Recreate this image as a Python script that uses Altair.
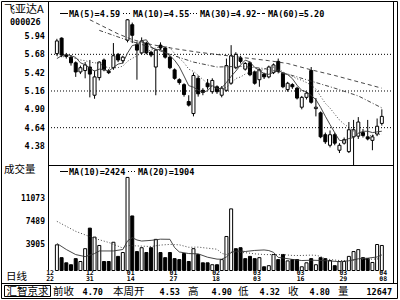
import altair as alt
import pandas as pd

# ---------------- data ----------------
opens = [5.69, 5.91, 5.67, 5.64, 5.56, 5.43, 5.45, 5.50, 5.10, 5.35,
         5.60, 5.44, 5.49, 5.68, 5.59, 5.88, 6.10, 5.82, 5.70, 5.84,
         5.71, 5.50, 5.81, 5.77, 5.64, 5.46, 5.32, 5.25, 5.01, 4.84,
         5.34, 5.17, 5.27, 5.15, 5.22, 5.10, 5.17, 5.27, 5.49, 5.63,
         5.47, 5.56, 5.43, 5.32, 5.40, 5.36, 5.42, 5.58, 5.41, 5.18,
         5.25, 5.20, 4.93, 5.07, 5.45, 4.91, 4.85, 4.54, 4.39, 4.54,
         4.32, 4.42, 4.30, 4.51, 4.52, 4.57, 4.51, 4.46, 4.55, 4.70]
highs = [5.90, 5.92, 5.70, 5.67, 5.58, 5.52, 5.57, 5.60, 5.45, 5.58,
         5.62, 5.47, 5.84, 5.70, 5.66, 6.21, 6.13, 5.86, 5.92, 5.86,
         5.73, 5.76, 5.85, 5.79, 5.66, 5.48, 5.34, 5.27, 5.10, 5.42,
         5.38, 5.20, 5.33, 5.34, 5.24, 5.23, 5.62, 5.81, 5.71, 5.66,
         5.57, 5.58, 5.45, 5.48, 5.42, 5.52, 5.55, 5.62, 5.43, 5.29,
         5.27, 5.22, 5.09, 5.15, 5.50, 5.06, 4.87, 4.57, 4.60, 4.57,
         4.42, 4.50, 4.72, 4.75, 4.79, 4.62, 4.75, 4.54, 4.77, 4.90]
lows = [5.66, 5.64, 5.62, 5.52, 5.36, 5.40, 5.34, 5.07, 5.05, 5.31,
        5.44, 5.40, 5.46, 5.57, 5.55, 5.85, 5.84, 5.32, 5.68, 5.68,
        5.64, 5.10, 5.74, 5.62, 5.47, 5.32, 5.25, 5.08, 4.94, 4.80,
        5.08, 5.10, 5.18, 5.12, 5.12, 5.07, 5.15, 5.25, 5.47, 5.55,
        5.45, 5.37, 5.25, 5.22, 5.33, 5.34, 5.40, 5.41, 5.20, 5.15,
        5.19, 5.04, 4.90, 5.04, 4.98, 4.80, 4.49, 4.41, 4.36, 4.39,
        4.28, 4.40, 4.28, 3.90, 4.48, 4.50, 4.46, 4.32, 4.52, 4.67]
closes = [5.87, 5.67, 5.65, 5.56, 5.43, 5.49, 5.53, 5.40, 5.36, 5.57,
          5.46, 5.42, 5.66, 5.60, 5.64, 6.17, 5.95, 5.74, 5.87, 5.70,
          5.67, 5.74, 5.77, 5.64, 5.49, 5.34, 5.28, 5.11, 4.96, 5.38,
          5.12, 5.14, 5.22, 5.31, 5.15, 5.20, 5.52, 5.66, 5.68, 5.58,
          5.55, 5.39, 5.27, 5.46, 5.36, 5.50, 5.53, 5.44, 5.22, 5.27,
          5.22, 5.06, 5.07, 5.13, 5.00, 4.93, 4.51, 4.44, 4.54, 4.42,
          4.39, 4.47, 4.61, 4.61, 4.72, 4.53, 4.48, 4.51, 4.66, 4.80]
volumes = [4000, 2000, 1200, 900, 1850, 1400, 3400, 6600, 5200, 3900,
           1400, 1400, 4400, 2200, 2800, 14500, 8500, 2950, 3550, 2800,
           3550, 4850, 2800, 2000, 2800, 1850, 1700, 2650, 1400, 3400,
           2500, 1200, 1200, 900, 900, 1700, 5300, 9600, 3400, 3550,
           1850, 2200, 1850, 2000, 580, 750, 2500, 1700, 2500, 1500,
           1700, 1700, 580, 1200, 1850, 900, 2000, 1850, 1550, 750,
           1400, 1400, 2200, 2950, 3250, 2000, 1850, 1250, 4050, 3900]
vol_dir = list("WBBBBWWBWW" "BBWBWWBBWB" "BWBBBBBBBW" "BBBWBWWWBB"
               "BBBWBWWBBW" "BBWWBWBBWB" "WWWWWBBWWW")

ma5 = [5.62, 5.66, 5.68, 5.66, 5.636, 5.56, 5.532, 5.482, 5.442, 5.47,
       5.464, 5.442, 5.494, 5.542, 5.556, 5.698, 5.804, 5.82, 5.874, 5.886,
       5.786, 5.744, 5.75, 5.704, 5.662, 5.596, 5.504, 5.372, 5.236, 5.214,
       5.17, 5.142, 5.164, 5.234, 5.188, 5.204, 5.28, 5.368, 5.442, 5.528,
       5.598, 5.572, 5.494, 5.45, 5.406, 5.396, 5.424, 5.458, 5.41, 5.392,
       5.336, 5.242, 5.168, 5.15, 5.096, 5.038, 4.928, 4.802, 4.684, 4.568,
       4.46, 4.452, 4.486, 4.50, 4.56, 4.588, 4.59, 4.57, 4.58, 4.59]
ma10 = [5.66, 5.65, 5.64, 5.63, 5.62, 5.60, 5.59, 5.57, 5.56, 5.553,
        5.512, 5.487, 5.488, 5.492, 5.513, 5.581, 5.623, 5.657, 5.708, 5.721,
        5.742, 5.774, 5.785, 5.789, 5.774, 5.691, 5.624, 5.561, 5.47, 5.438,
        5.383, 5.323, 5.268, 5.235, 5.201, 5.187, 5.211, 5.266, 5.338, 5.358,
        5.401, 5.426, 5.431, 5.446, 5.467, 5.497, 5.498, 5.476, 5.43, 5.399,
        5.366, 5.333, 5.313, 5.28, 5.244, 5.187, 5.085, 4.985, 4.917, 4.832,
        4.749, 4.69, 4.644, 4.592, 4.564, 4.524, 4.521, 4.528, 4.54, 4.55]
ma30_idx = [9, 12, 15, 19, 24, 29, 34, 39, 44, 49, 54, 59, 64, 69]
ma30_val = [6.02, 5.95, 5.88, 5.80, 5.68, 5.57, 5.50, 5.51, 5.48, 5.40, 5.30, 5.20, 5.09, 4.92]
ma60_idx = [7, 10, 13, 16, 20, 25, 30, 35, 40, 45, 49, 54, 59, 64, 69]
ma60_val = [6.17, 6.07, 5.97, 5.89, 5.82, 5.76, 5.71, 5.67, 5.63, 5.59, 5.55, 5.46, 5.38, 5.29, 5.20]

vma10_idx = [0, 2, 4, 6, 8, 9, 12, 14, 15, 16, 17, 18, 20, 22, 24, 25, 26, 28, 30, 32, 34, 35,
             36, 37, 38, 39, 40, 42, 44, 45, 46, 47, 48, 50, 52, 54, 56, 58, 60, 62, 64, 66, 68, 69]
vma10_val = [4220, 3270, 2480, 2160, 2640, 3045, 3045, 3270, 4610, 5120, 4755, 4590, 4695, 4880,
             4860, 3565, 2885, 2640, 2595, 2070, 1770, 1755, 2115, 2810, 3010, 3025, 2960, 3125,
             3203, 3108, 2828, 2038, 1948, 1728, 1551, 1598, 1563, 1483, 1378, 1510, 1825, 1920,
             2110, 2424]
vma20_idx = [0, 4, 8, 11, 14, 15, 19, 20, 22, 24, 26, 28, 30, 32, 34, 35, 36, 37, 38, 40, 42,
             44, 46, 48, 50, 52, 54, 55, 56, 57, 58, 60, 62, 64, 66, 68, 69]
vma20_val = [7660, 6100, 5000, 4370, 3500, 3900, 3763, 3740, 3963, 4065, 4003, 3615, 3645, 3475,
             3315, 2660, 2500, 2833, 2825, 2778, 2598, 2487, 2472, 2479, 2344, 2338, 2401, 2361,
             2196, 1808, 1716, 1553, 1531, 1712, 1742, 1797, 1904]

price_ticks = [5.94, 5.68, 5.42, 5.16, 4.90, 4.64, 4.38]
price_grid = [5.68, 5.16, 4.64]
vol_ticks = [11073, 7489, 3905]
date_pos = [-1.44, 7.0, 15.67, 24.74, 33.81, 42.47, 51.75, 60.82, 69.28]
date_mon = ["12", "12", "01", "01", "02", "03", "03", "03", "04"]
date_day = ["22", "31", "14", "27", "18", "03", "16", "29", "08"]

# ---------------- scales ----------------
MONO = "DejaVu Sans Mono"
CJK = "Noto Sans CJK SC"
XS = alt.Scale(domain=[-0.825, 70.31], range=[48, 393], nice=False, zero=False)
PS = alt.Scale(domain=[4.1105, 6.1811], range=[165, 19], nice=False, zero=False, clamp=True)
VS = alt.Scale(domain=[0, 16437], range=[270.5, 165], nice=False, zero=False, clamp=True)
FILL = alt.Scale(domain=["W", "B"], range=["white", "black"])

idx = list(range(len(closes)))
cdf = pd.DataFrame({"i": idx, "open": opens, "high": highs, "low": lows, "close": closes,
                    "dir": ["W" if c >= o else "B" for o, c in zip(opens, closes)]})
vdf = pd.DataFrame({"i": idx, "vol": volumes, "dir": vol_dir})

X = alt.X("i:Q", scale=XS, axis=None)
ONE = pd.DataFrame({"k": [0]})


def line_layer(xs, ys, scale, dash=None, width=0.9, color="#333"):
    df = pd.DataFrame({"i": xs, "v": ys})
    kw = dict(color=color, strokeWidth=width)
    if dash:
        kw["strokeDash"] = dash
    return alt.Chart(df).mark_line(**kw).encode(
        x=alt.X("i:Q", scale=XS, axis=None), y=alt.Y("v:Q", scale=scale, axis=None))


def txt(s, x, y, size=8.5, font=MONO, weight="bold", align="left"):
    return alt.Chart(ONE).mark_text(text=s, font=font, fontSize=size, fontWeight=weight,
                                    align=align, baseline="middle", color="black").encode(
        x=alt.value(x), y=alt.value(y))


def hrule(x1, x2, y, dash=None, w=1.0):
    kw = dict(color="black", strokeWidth=w)
    if dash:
        kw["strokeDash"] = dash
    return alt.Chart(ONE).mark_rule(**kw).encode(x=alt.value(x1), x2=alt.value(x2), y=alt.value(y))


def vrule(x, y1, y2, w=1.0):
    return alt.Chart(ONE).mark_rule(color="black", strokeWidth=w).encode(
        x=alt.value(x), y=alt.value(y1), y2=alt.value(y2))


def box(x1, x2, y1, y2):
    return alt.Chart(ONE).mark_rect(fillOpacity=0, stroke="black", strokeWidth=1).encode(
        x=alt.value(x1), x2=alt.value(x2), y=alt.value(y1), y2=alt.value(y2))


layers = []

# gridlines
layers.append(alt.Chart(pd.DataFrame({"v": price_grid})).mark_rule(
    color="black", strokeWidth=1, strokeDash=[1, 2]).encode(
    y=alt.Y("v:Q", scale=PS, axis=None), x=alt.value(48), x2=alt.value(393)))

# candles
layers.append(alt.Chart(cdf).mark_rule(color="black", strokeWidth=1).encode(
    x=X, y=alt.Y("low:Q", scale=PS, axis=None), y2="high:Q"))
layers.append(alt.Chart(cdf).mark_bar(size=3, stroke="black", strokeWidth=1, orient="vertical").encode(
    x=X, y=alt.Y("open:Q", scale=PS, axis=None), y2="close:Q",
    fill=alt.Fill("dir:N", scale=FILL, legend=None)))

# price moving averages
layers.append(line_layer(idx, ma5, PS))
layers.append(line_layer(idx, ma10, PS, dash=[1, 2]))
layers.append(line_layer(ma30_idx, ma30_val, PS, dash=[4, 2, 1, 2]))
layers.append(line_layer(ma60_idx, ma60_val, PS, dash=[4, 3]))

# volume
layers.append(alt.Chart(vdf).mark_bar(size=3, stroke="black", strokeWidth=1, orient="vertical").encode(
    x=X, y=alt.Y("vol:Q", scale=VS, axis=None), y2=alt.datum(0),
    fill=alt.Fill("dir:N", scale=FILL, legend=None)))
layers.append(line_layer(vma10_idx, vma10_val, VS))
layers.append(line_layer(vma20_idx, vma20_val, VS, dash=[1, 2]))

# axis labels
layers.append(alt.Chart(pd.DataFrame({"v": price_ticks, "t": [f"{p:.2f}" for p in price_ticks]})).mark_text(
    font=MONO, fontSize=8.5, fontWeight="bold", align="right", baseline="middle", color="black").encode(
    y=alt.Y("v:Q", scale=PS, axis=None), x=alt.value(45), text="t:N"))
layers.append(alt.Chart(pd.DataFrame({"v": vol_ticks, "t": [str(v) for v in vol_ticks]})).mark_text(
    font=MONO, fontSize=8, fontWeight="bold", align="right", baseline="middle", color="black").encode(
    y=alt.Y("v:Q", scale=VS, axis=None), x=alt.value(45), text="t:N"))
ddf = pd.DataFrame({"i": date_pos, "m": date_mon, "d": date_day})
layers.append(alt.Chart(ddf).mark_text(font=MONO, fontSize=6.5, fontWeight="bold", baseline="middle",
                                       color="black").encode(x=X, y=alt.value(272.6), text="m:N"))
layers.append(alt.Chart(ddf).mark_text(font=MONO, fontSize=6.5, fontWeight="bold", baseline="middle",
                                       color="black").encode(x=X, y=alt.value(279.2), text="d:N"))

# legends / titles
layers += [
    txt("飞亚达A", 4, 10, size=11, font=CJK, weight="normal"),
    txt("000026", 10, 21.5),
    hrule(60, 68, 13.5, w=1),
    txt("MA(5)=4.59", 69, 13.5),
    hrule(123, 132, 13.5, dash=[1, 2]),
    txt("MA(10)=4.55", 133, 13.5),
    hrule(190, 199, 13.5, dash=[1, 2]),
    txt("MA(30)=4.92", 200, 13.5),
    hrule(257, 267, 13.5, dash=[3, 2]),
    txt("MA(60)=5.20", 268, 13.5),
    txt("成交量", 4, 170, size=10.5, font=CJK, weight="normal"),
    hrule(60, 68, 171.5, w=1),
    txt("MA(10)=2424", 69, 171.5),
    hrule(128, 137, 171.5, dash=[1, 2]),
    txt("MA(20)=1904", 138, 171.5),
    txt("日线", 6, 277, size=10.5, font=CJK, weight="normal"),
    # status bar
    txt("汇智京求", 27.5, 291.5, size=10.5, font=CJK, weight="normal", align="center"),
    txt("前收", 53, 291.5, size=10.5, font=CJK, weight="normal"),
    txt("4.70", 103, 291.5, align="right"),
    txt("本周开", 113, 291.5, size=10.5, font=CJK, weight="normal"),
    txt("4.53", 180, 291.5, align="right"),
    txt("高", 188, 291.5, size=10.5, font=CJK, weight="normal"),
    txt("4.90", 232, 291.5, align="right"),
    txt("低", 238, 291.5, size=10.5, font=CJK, weight="normal"),
    txt("4.32", 280, 291.5, align="right"),
    txt("收", 288, 291.5, size=10.5, font=CJK, weight="normal"),
    txt("4.80", 330, 291.5, align="right"),
    txt("量", 338, 291.5, size=10.5, font=CJK, weight="normal"),
    txt("12647", 392, 291.5, align="right"),
]

# frame
layers += [
    box(1.5, 397.5, 1.5, 298.5),
    vrule(393.5, 1.5, 283.5),
    vrule(48.5, 1.5, 270.5),
    hrule(48.5, 393.5, 165.5),
    hrule(1.5, 397.5, 283.5),
    box(4.5, 50.5, 285.5, 296.5),
]

chart = alt.layer(*layers).resolve_scale(y="independent").properties(
    width=400, height=300, padding=0, autosize=alt.AutoSizeParams(type="none"),
    background="white").configure_view(strokeWidth=0)

chart.save("out.html", embed_options={"renderer": "svg", "actions": False})
